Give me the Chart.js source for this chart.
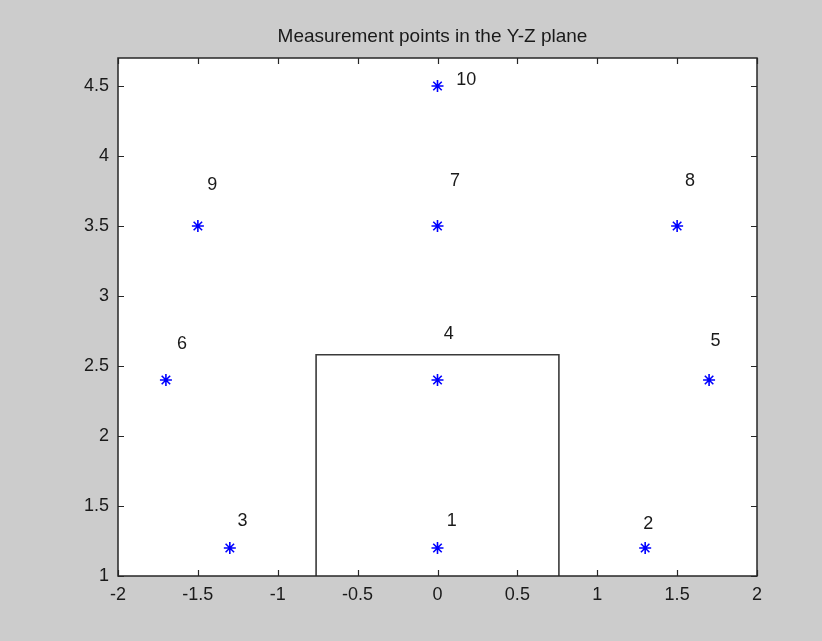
<!DOCTYPE html>
<html>
<head>
<meta charset="utf-8">
<script src="https://cdn.jsdelivr.net/npm/chart.js@4"></script>
<style>
  html, body { margin: 0; padding: 0; background: #cccccc; }
  #wrap { width: 822px; height: 641px; position: relative; }
</style>
</head>
<body>
<div id="wrap"><canvas id="c" width="822" height="641"></canvas></div>
<script>
// Measurement point coordinates (Y, Z) and their numbers
const pointNames = ['1', '2', '3', '4', '5', '6', '7', '8', '9', '10'];
const pointY = [0, 1.3, -1.3, 0, 1.7, -1.7, 0, 1.5, -1.5, 0];
const pointZ = [1.2, 1.2, 1.2, 2.4, 2.4, 2.4, 3.5, 3.5, 3.5, 4.5];

// Where each number is written (data units, text centre)
const labelY = [0.09, 1.32, -1.22, 0.07, 1.74, -1.6, 0.11, 1.58, -1.41, 0.18];
const labelZ = [1.39, 1.37, 1.39, 2.73, 2.68, 2.66, 3.82, 3.82, 3.79, 4.54];

// Outline of the body in the Y-Z plane
const boxY = [-0.76, -0.76, 0.76, 0.76];
const boxZ = [1, 2.58, 2.58, 1];

// Axis limits and tick spacing
const yAxisMin = -2, yAxisMax = 2, yStep = 0.5;
const zAxisMin = 1, zAxisMax = 4.7, zStep = 0.5;

const titleText = 'Measurement points in the Y-Z plane';
const FONT = '"Liberation Sans", Arial, Helvetica, sans-serif';

const pts = pointY.map((y, i) => ({ x: y, y: pointZ[i] }));
const box = boxY.map((y, i) => ({ x: y, y: boxZ[i] }));

// plain number labels: 1, 1.5, -0.5, 0
const plainNumber = v => String(Math.round(v * 10) / 10);

// Frame, inward ticks on all four sides, title and point numbers
const decorations = {
  id: 'decorations',
  beforeDraw(chart) {
    const { ctx, chartArea: a } = chart;
    ctx.save();
    ctx.fillStyle = '#cccccc';
    ctx.fillRect(0, 0, chart.width, chart.height);
    ctx.fillStyle = '#ffffff';
    ctx.fillRect(a.left, a.top, a.right - a.left, a.bottom - a.top);
    ctx.restore();
  },
  afterDatasetsDraw(chart) {
    const { ctx, chartArea: a, scales } = chart;
    const xs = scales.x, ys = scales.y;
    ctx.save();
    ctx.strokeStyle = '#262626';
    ctx.lineWidth = 1.5;
    ctx.strokeRect(a.left, a.top, a.right - a.left, a.bottom - a.top);
    const tl = 6;
    ctx.lineWidth = 1.2;
    ctx.beginPath();
    xs.ticks.forEach(t => {
      const px = Math.round(xs.getPixelForValue(t.value)) + 0.5;
      ctx.moveTo(px, a.bottom); ctx.lineTo(px, a.bottom - tl);
      ctx.moveTo(px, a.top); ctx.lineTo(px, a.top + tl);
    });
    ys.ticks.forEach(t => {
      const py = Math.round(ys.getPixelForValue(t.value)) + 0.5;
      ctx.moveTo(a.left, py); ctx.lineTo(a.left + tl, py);
      ctx.moveTo(a.right, py); ctx.lineTo(a.right - tl, py);
    });
    ctx.stroke();

    // point numbers
    ctx.fillStyle = '#1a1a1a';
    ctx.font = '18px ' + FONT;
    ctx.textAlign = 'center';
    ctx.textBaseline = 'middle';
    pointNames.forEach((n, i) => {
      ctx.fillText(n, xs.getPixelForValue(labelY[i]), ys.getPixelForValue(labelZ[i]));
    });

    // title
    ctx.fillStyle = '#1a1a1a';
    ctx.font = '19px ' + FONT;
    ctx.textBaseline = 'middle';
    ctx.fillText(titleText, (a.left + a.right) / 2 - 5, 37);
    ctx.restore();
  }
};

new Chart(document.getElementById('c'), {
  type: 'scatter',
  data: {
    datasets: [
      {
        label: 'body',
        data: box,
        showLine: true,
        borderColor: '#3a3a3a',
        borderWidth: 1.6,
        pointRadius: 0,
        fill: false,
        tension: 0
      },
      {
        label: 'points',
        data: pts,
        pointStyle: 'star',
        pointRadius: 6,
        pointBorderWidth: 1.6,
        pointBorderColor: '#0000ff',
        pointBackgroundColor: '#0000ff',
        showLine: false
      }
    ]
  },
  options: {
    responsive: false,
    animation: false,
    events: [],
    layout: { padding: { top: 58, right: 65, left: 0, bottom: 0 } },
    plugins: {
      legend: { display: false },
      title: { display: false },
      tooltip: { enabled: false }
    },
    scales: {
      x: {
        type: 'linear',
        min: yAxisMin, max: yAxisMax,
        grid: { display: false, drawTicks: false },
        border: { display: false },
        ticks: {
          stepSize: yStep,
          includeBounds: false,
          padding: 8,
          color: '#1a1a1a',
          font: { family: FONT, size: 18 },
          maxRotation: 0,
          callback: plainNumber
        },
        afterFit(s) { s.height = 65; }
      },
      y: {
        type: 'linear',
        min: zAxisMin, max: zAxisMax,
        grid: { display: false, drawTicks: false },
        border: { display: false },
        ticks: {
          stepSize: zStep,
          includeBounds: false,
          padding: 9,
          color: '#1a1a1a',
          font: { family: FONT, size: 18 },
          callback: plainNumber
        },
        afterFit(s) { s.width = 118; }
      }
    }
  },
  plugins: [decorations]
});
</script>
</body>
</html>
